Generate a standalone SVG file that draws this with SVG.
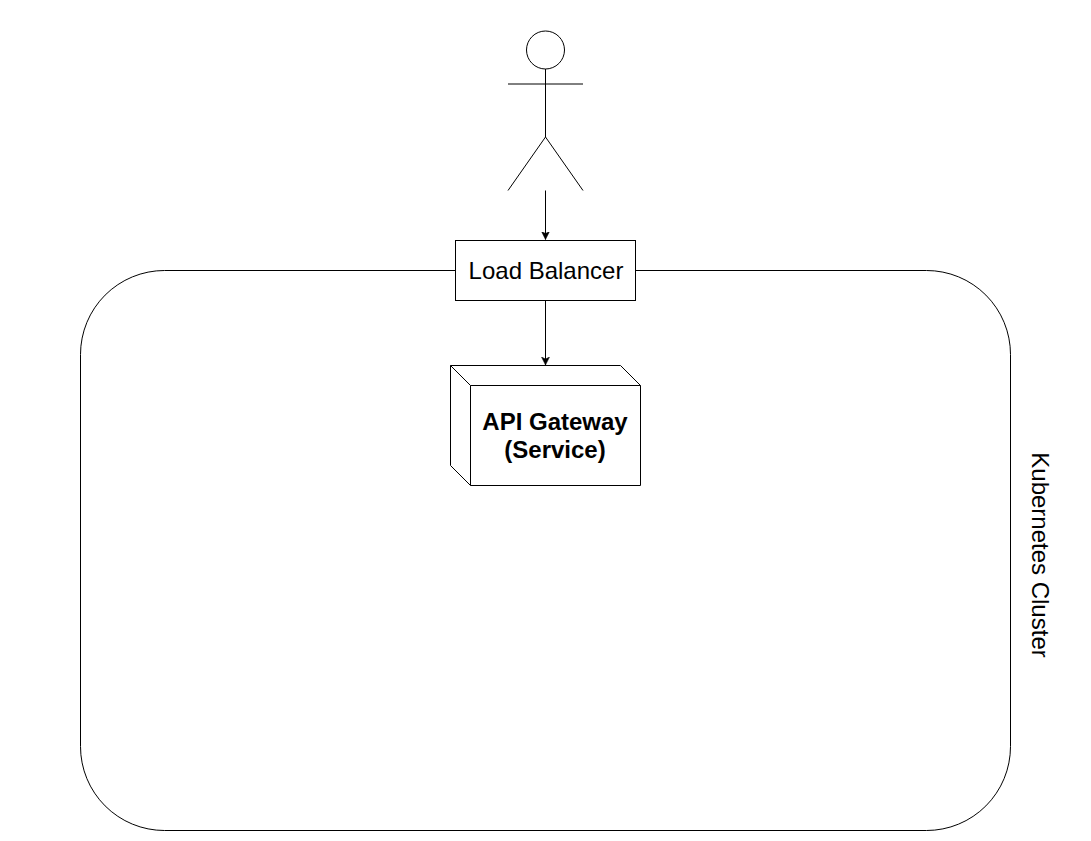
<svg xmlns="http://www.w3.org/2000/svg" width="1091" height="841" viewBox="0 0 1091 841">
<style>
.s{fill:none;stroke:#000;stroke-width:1}
.w{fill:#fff;stroke:#000;stroke-width:1}
text{font-family:"Liberation Sans",Arial,sans-serif;fill:#000;text-anchor:middle}
.t{font-size:24px}
.b{font-size:24px;font-weight:bold}
</style>
<defs><marker id="a" markerUnits="userSpaceOnUse" markerWidth="10" markerHeight="10" refX="8" refY="4" orient="auto"><path d="M0 0L8 4L0 8L2 4Z" fill="#000" stroke="#000" stroke-width="0.5"/></marker></defs>
<rect width="1091" height="841" fill="#fff"/>
<g id="cluster"><rect class="s" x="80.500" y="270.500" width="930" height="560" rx="84" ry="84"/><text class="t" transform="translate(1032 555) rotate(90)">Kubernetes Cluster</text></g>
<g id="connectors"><path class="s" d="M545.500 190.500V239.500" marker-end="url(#a)"/><path class="s" d="M545.500 300.500V365" marker-end="url(#a)"/></g>
<g id="actor"><circle class="s" cx="545.500" cy="50" r="19"/><path class="s" d="M545.500 69V137M508 84H583M545.500 137L508 190.500M545.500 137L583 190.500"/></g>
<g id="lb"><rect class="w" x="455.500" y="240.500" width="180" height="60"/><text class="t" x="546" y="279">Load Balancer</text></g>
<g id="gateway"><path class="w" d="M450.500 365.500H620.500L640.500 385.500V485.500H470.500L450.500 465.500Z"/><path class="s" d="M450.500 365.500L470.500 385.500H640.500M470.500 385.500V485.500"/><text class="b" x="555" y="430">API Gateway</text><text class="b" x="555" y="458">(Service)</text></g>
</svg>
